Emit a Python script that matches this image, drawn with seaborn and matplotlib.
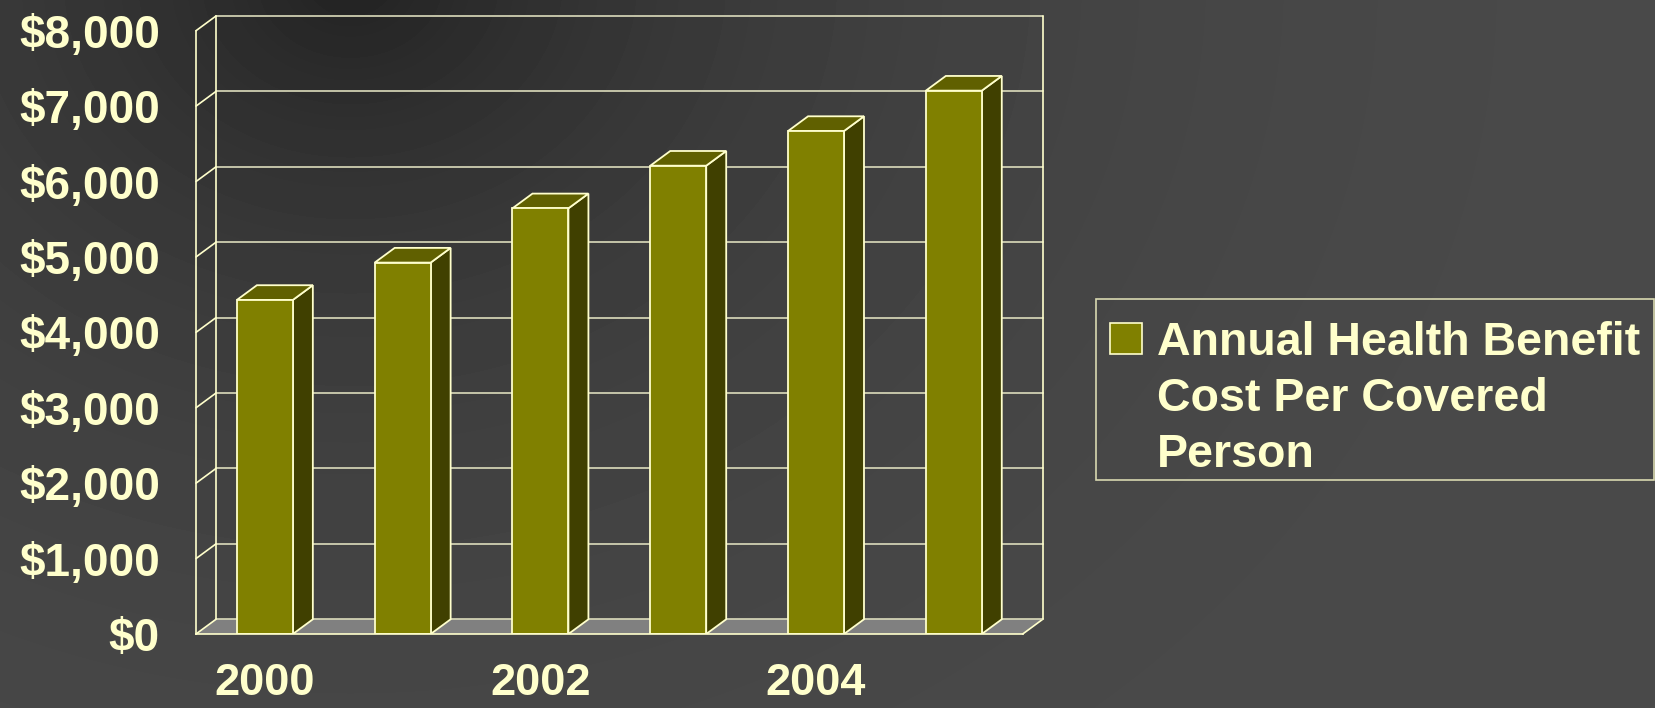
import numpy as np
import pandas as pd
import matplotlib
matplotlib.use('Agg')
import matplotlib.pyplot as plt
from matplotlib.patches import Polygon, Patch, Rectangle
import seaborn as sns

# data
years = ['2000', '2001', '2002', '2003', '2004', '2005']
cost = [4430, 4925, 5645, 6210, 6670, 7205]
y_ticks = [0, 1000, 2000, 3000, 4000, 5000, 6000, 7000, 8000]
y_tick_labels = ['$0', '$1,000', '$2,000', '$3,000', '$4,000',
                 '$5,000', '$6,000', '$7,000', '$8,000']
x_tick_labels = ['2000', '', '2002', '', '2004', '']
legend_lines = ['Annual Health Benefit', 'Cost Per Covered', 'Person']

FRONT = '#808000'
TOP = '#606000'
SIDE = '#404000'
EDGE = '#FFFFCC'
GRID = '#DCDCBC'
FLOOR = '#808080'
TXT = '#FFFFCC'

sns.set_theme(style='white')
plt.rcParams['font.family'] = ['Liberation Sans', 'DejaVu Sans']
plt.rcParams['font.weight'] = 'bold'

W, H = 1656, 708
fig = plt.figure(figsize=(W / 100, H / 100), dpi=100)

# background gradient, dark at the top left
bg = fig.add_axes([0, 0, 1, 1], zorder=-10)
yy, xx = np.mgrid[0:H, 0:W]
d = np.hypot(xx - 350, (yy + 20) * 1.2)
g = (34 + 42 * (1 - np.exp(-d / 450))) / 255
bg.imshow(g, cmap='gray', vmin=0, vmax=1, aspect='auto', extent=(0, 1, 0, 1))
bg.set_xlim(0, 1)
bg.set_ylim(0, 1)
bg.axis('off')

# plot area: front axis at x=196px, floor at y=634px, back wall reaches 1042px / 16px
ax = fig.add_axes([196 / W, (H - 634) / H, 846.7 / W, 618 / H])
ax.set_facecolor('none')
dx = 0.145   # depth offset in category units
dy = 195     # depth offset in data units

df = pd.DataFrame({'Year': years, 'Cost': cost})
sns.barplot(data=df, x='Year', y='Cost', color=FRONT, saturation=1, width=0.406,
            edgecolor=EDGE, linewidth=1.3, ax=ax, zorder=3)

for p in list(ax.patches):
    x0 = p.get_x()
    x1 = x0 + p.get_width()
    v = p.get_height()
    top = Polygon([(x0, v), (x1, v), (x1 + dx, v + dy), (x0 + dx, v + dy)],
                  closed=True, facecolor=TOP, edgecolor=EDGE, lw=1.3, zorder=2.5)
    side = Polygon([(x1, 0), (x1 + dx, dy), (x1 + dx, v + dy), (x1, v)],
                   closed=True, facecolor=SIDE, edgecolor=EDGE, lw=1.3, zorder=2.5)
    ax.add_patch(side)
    ax.add_patch(top)

ax.set_xlim(-0.5, 5.5 + dx)
ax.set_ylim(0, 8000 + dy)

# floor
ax.add_patch(Polygon([(-0.5, 0), (5.5, 0), (5.5 + dx, dy), (-0.5 + dx, dy)],
                     closed=True, facecolor=FLOOR, edgecolor='none', zorder=0.5))
ax.plot([5.5, 5.5 + dx], [0, dy], color=EDGE, lw=1.2, zorder=0.8, clip_on=False)

# back wall and side wall lines
for t in y_ticks:
    ax.plot([-0.5 + dx, 5.5 + dx], [t + dy, t + dy], color=GRID, lw=1.2, zorder=0.8, clip_on=False)
    ax.plot([-0.5, -0.5 + dx], [t, t + dy], color=EDGE, lw=1.2, zorder=0.8, clip_on=False)
ax.plot([-0.5 + dx, -0.5 + dx], [dy, 8000 + dy], color=EDGE, lw=1.2, zorder=0.8, clip_on=False)
ax.plot([5.5 + dx, 5.5 + dx], [dy, 8000 + dy], color=EDGE, lw=1.2, zorder=0.8, clip_on=False)

for s in ['top', 'right']:
    ax.spines[s].set_visible(False)
ax.spines['left'].set_bounds(0, 8000)
ax.spines['bottom'].set_bounds(-0.5, 5.5)
for s in ['left', 'bottom']:
    ax.spines[s].set_color(EDGE)
    ax.spines[s].set_linewidth(1.2)
    ax.spines[s].set_zorder(4)

ax.set_xlabel('')
ax.set_ylabel('')
ax.set_yticks(y_ticks, y_tick_labels)
ax.tick_params(axis='y', length=8, width=1.2, color=EDGE, labelsize=33,
               labelcolor=TXT, pad=18)
ax.set_xticks(range(len(years)), x_tick_labels)
ax.set_xticks(np.arange(-0.5, 6, 1), minor=True)
ax.tick_params(axis='x', which='major', length=0, labelsize=32.5, labelcolor=TXT, pad=21)
ax.tick_params(axis='x', which='minor', length=8, width=1.2, color=EDGE)
for lab in ax.get_xticklabels() + ax.get_yticklabels():
    lab.set_fontweight('bold')

# legend (frame drawn separately so the text can sit like the reference)
handles = [Patch(facecolor=FRONT, edgecolor=EDGE, lw=1.2),
           Patch(facecolor='none', edgecolor='none'),
           Patch(facecolor='none', edgecolor='none')]
leg = ax.legend(handles, legend_lines, loc='upper left',
                bbox_to_anchor=(1095.7 / W, 1 - 307 / H), bbox_transform=fig.transFigure,
                frameon=False, borderaxespad=0, borderpad=0.3,
                handlelength=0.69, handleheight=0.67, handletextpad=0.33,
                labelspacing=0.26, prop={'size': 33.5, 'weight': 'bold'},
                labelcolor=TXT)
fig.patches.append(Rectangle((1095.7 / W, 1 - 480 / H), (1653.8 - 1095.7) / W, (480 - 299) / H,
                             transform=fig.transFigure, facecolor='none',
                             edgecolor='#D8D8B0', lw=1.2))

fig.savefig('out.png', dpi=100)
